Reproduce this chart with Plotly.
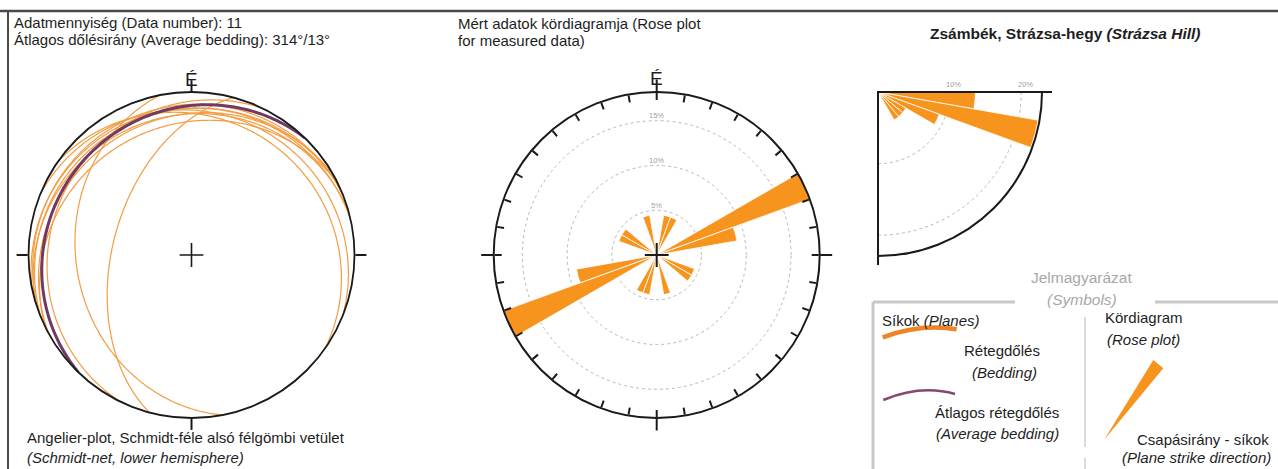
import numpy as np
import plotly.graph_objects as go

W, H = 1278, 469

# ---------------- data ----------------
data_number = 11
avg_dipdir = 314
avg_dip = 13

# measured bedding planes (dip direction / dip, degrees)
plane_dipdir = [259, 285, 296, 331, 334, 337, 339, 344, 348, 22, 35]
plane_dip = [30, 50, 14, 16, 21, 12, 9, 15, 11, 13, 17]

# rose plot of strike directions (10 degree bins, 0-180, drawn bidirectionally)
strike_bin_start = [10, 20, 60, 70, 110, 120, 160]
strike_pct = [4.5, 4.5, 18.2, 9.1, 4.5, 4.5, 4.5]
rose_rings = [5, 10, 15]
rose_ring_labels = ['5%', '10%', '15%']
rose_max = 18.2

# quarter rose of dip angles (10 degree bins)
dip_bin_start = [0, 10, 20, 30, 40, 50]
dip_pct = [13.6, 22.7, 9.1, 4.5, 4.5, 4.5]
dip_rings = [10, 20]
dip_ring_labels = ['10%', '20%']
dip_max = 22.9

# ---------------- style / geometry ----------------
FONT = 'Liberation Sans, Arial, sans-serif'
TXT = '#1e1e1e'
ARC_ORANGE = '#F39C42'
PETAL = '#F7941D'
PURPLE = '#713A62'
FRAME = '#1a1a1a'

STEREO_C, STEREO_R = (191.5, 255.0), 163.0
ROSE_C, ROSE_R = (656.7, 255.0), 163.0
Q_O, Q_R = (878.0, 92.0), 164.0


def circle_domain(c, r):
    cx, cy = c
    return dict(x=[(cx - r) / W, (cx + r) / W], y=[(H - cy - r) / H, (H - cy + r) / H])


def great_circle(dd, dip, n=241):
    """Lower-hemisphere equal-area (Schmidt) projection of a plane."""
    a, d = np.radians(dd), np.radians(dip)
    s = a - np.pi / 2
    lam = np.linspace(0, np.pi, n)
    sv = np.array([np.sin(s), np.cos(s), 0.0])
    dv = np.array([np.cos(d) * np.sin(a), np.cos(d) * np.cos(a), np.sin(d)])
    v = np.outer(np.cos(lam), sv) + np.outer(np.sin(lam), dv)
    plunge = np.degrees(np.arcsin(np.clip(v[:, 2], -1, 1)))
    trend = np.degrees(np.arctan2(v[:, 0], v[:, 1])) % 360
    r = np.sqrt(2) * np.sin(np.radians(45 - plunge / 2))
    return r, trend


fig = go.Figure()

# invisible trace so the pixel-unit cartesian overlay exists
fig.add_trace(go.Scatter(x=[0], y=[0], mode='markers', marker=dict(opacity=0),
                         hoverinfo='skip', showlegend=False))

# ---------- stereonet ----------
for dd, dp in zip(plane_dipdir, plane_dip):
    r, t = great_circle(dd, dp)
    fig.add_trace(go.Scatterpolar(r=r, theta=t, mode='lines', subplot='polar',
                                  line=dict(color=ARC_ORANGE, width=1.2),
                                  hoverinfo='skip', showlegend=False))
r, t = great_circle(avg_dipdir, avg_dip)
fig.add_trace(go.Scatterpolar(r=r, theta=t, mode='lines', subplot='polar',
                              line=dict(color=PURPLE, width=3),
                              hoverinfo='skip', showlegend=False))
fig.add_trace(go.Scatterpolar(r=[0], theta=[0], mode='markers', subplot='polar',
                              marker=dict(symbol='cross-thin', size=17,
                                          line=dict(color=FRAME, width=1.6)),
                              hoverinfo='skip', showlegend=False))

# ---------- rose of strikes ----------
rose_theta = [b + 5 for b in strike_bin_start] + [b + 185 for b in strike_bin_start]
rose_r = strike_pct + strike_pct
fig.add_trace(go.Barpolar(r=rose_r, theta=rose_theta, width=[10] * len(rose_r),
                          subplot='polar2', marker=dict(color=PETAL, line=dict(color='white', width=0.8)),
                          hoverinfo='skip', showlegend=False))
fig.add_trace(go.Scatterpolar(r=[0], theta=[0], mode='markers', subplot='polar2',
                              marker=dict(symbol='cross-thin', size=17,
                                          line=dict(color=FRAME, width=2)),
                              hoverinfo='skip', showlegend=False))
# overlay subplot just for the outward cardinal ticks
fig.add_trace(go.Scatterpolar(r=[0], theta=[0], mode='markers', subplot='polar3',
                              marker=dict(opacity=0), hoverinfo='skip', showlegend=False))

# ---------- quarter rose of dips ----------
fig.add_trace(go.Barpolar(r=dip_pct, theta=[90 + b + 5 for b in dip_bin_start],
                          width=[10] * len(dip_pct), subplot='polar4',
                          marker=dict(color=PETAL, line=dict(color='white', width=0.8)),
                          hoverinfo='skip', showlegend=False))

ang_common = dict(rotation=90, direction='clockwise', showgrid=False, showticklabels=False)

fig.update_layout(
    width=W, height=H, margin=dict(l=0, r=0, t=0, b=0),
    paper_bgcolor='white', plot_bgcolor='rgba(0,0,0,0)', showlegend=False,
    xaxis=dict(range=[0, W], visible=False, domain=[0, 1], fixedrange=True),
    yaxis=dict(range=[H, 0], visible=False, domain=[0, 1], fixedrange=True),
    polar=dict(
        domain=circle_domain(STEREO_C, STEREO_R), bgcolor='rgba(0,0,0,0)',
        radialaxis=dict(range=[0, 1], visible=False, showgrid=False),
        angularaxis=dict(**ang_common, showline=True, linecolor=FRAME, linewidth=1.8,
                         tickmode='array', tickvals=[0, 90, 180, 270], ticks='outside',
                         ticklen=11, tickwidth=1.5, tickcolor=FRAME),
    ),
    polar2=dict(
        domain=circle_domain(ROSE_C, ROSE_R), bgcolor='rgba(0,0,0,0)', bargap=0,
        radialaxis=dict(range=[0, rose_max], tickmode='array', tickvals=rose_rings,
                        showgrid=True, gridcolor='#b8b8b8', gridwidth=1, griddash='3px,3px',
                        showline=False, showticklabels=False, ticks=''),
        angularaxis=dict(**ang_common, showline=True, linecolor=FRAME, linewidth=2,
                         tickmode='array', tickvals=list(range(0, 360, 10)), ticks='inside',
                         ticklen=7, tickwidth=1.5, tickcolor=FRAME),
    ),
    polar3=dict(
        domain=circle_domain(ROSE_C, ROSE_R), bgcolor='rgba(0,0,0,0)',
        radialaxis=dict(range=[0, rose_max], visible=False, showgrid=False),
        angularaxis=dict(**ang_common, showline=False, tickmode='array',
                         tickvals=[0, 90, 180, 270], ticks='outside', ticklen=12,
                         tickwidth=1.5, tickcolor=FRAME),
    ),
    polar4=dict(
        domain=dict(x=[Q_O[0] / W, (Q_O[0] + Q_R) / W],
                    y=[(H - Q_O[1] - Q_R) / H, (H - Q_O[1]) / H]),
        sector=[270, 360], bgcolor='rgba(0,0,0,0)', bargap=0,
        radialaxis=dict(range=[0, dip_max], tickmode='array', tickvals=dip_rings,
                        showticklabels=False, ticks='', showline=False,
                        showgrid=True, gridcolor='#b8b8b8', gridwidth=1, griddash='3px,3px'),
        angularaxis=dict(**ang_common, showline=True, linecolor=FRAME, linewidth=2,
                         tickmode='array', tickvals=list(range(100, 180, 10)), ticks='inside',
                         ticklen=6, tickwidth=1.5, tickcolor=FRAME),
    ),
)

# ---------- decorative frame lines (pixel units) ----------
def line(x0, y0, x1, y1, color, width):
    fig.add_shape(type='line', xref='x', yref='y', x0=x0, y0=y0, x1=x1, y1=y1,
                  line=dict(color=color, width=width))

line(0, 11, W, 11, '#4a4a4a', 2.5)
line(8, 11, 8, H, '#4a4a4a', 2)
# quarter-rose edges
line(Q_O[0], Q_O[1], Q_O[0] + Q_R + 10, Q_O[1], FRAME, 2)
line(Q_O[0], Q_O[1], Q_O[0], Q_O[1] + Q_R + 9, FRAME, 2)
# legend box
line(873, 302, 1015, 302, '#c8c8c8', 3)
line(1155, 302, W, 302, '#c8c8c8', 3)
line(873, 302, 873, H, '#c8c8c8', 3)
line(1085, 317, 1085, 447, '#cfcfcf', 1.5)
line(1085, 458, 1085, H, '#cfcfcf', 1.5)

# legend glyphs
fig.add_shape(type='path', xref='x', yref='y', path='M 882.7,337.3 Q 920.3,323.3 956.7,329.3',
              line=dict(color='#EE8428', width=4.5))
fig.add_shape(type='path', xref='x', yref='y', path='M 883.3,400 Q 920.8,384.4 955,394',
              line=dict(color='#87466F', width=2.5))
fig.add_shape(type='path', xref='x', yref='y', path='M 1104,440 L 1153.3,360 L 1163.3,368.3 Z',
              fillcolor=PETAL, line=dict(width=0))

# ---------- texts ----------
def txt(x, y, s, size=15, color=TXT, anchor='left'):
    fig.add_annotation(x=x, y=y, xref='x', yref='y', text=s, showarrow=False,
                       xanchor=anchor, yanchor='middle',
                       font=dict(family=FONT, size=size, color=color))

txt(12, 22.5, f'Adatmennyiség (Data number): {data_number}')
txt(12, 39.5, f'Átlagos dőlésirány (Average bedding): {avg_dipdir}°/{avg_dip}°')
txt(STEREO_C[0], 79.5, 'É', size=19, anchor='center')
txt(25, 437.8, 'Angelier-plot, Schmidt-féle alsó félgömbi vetület')
txt(25, 457.8, '<i>(Schmidt-net, lower hemisphere)</i>')

txt(456, 23, 'Mért adatok kördiagramja (Rose plot')
txt(456, 40.5, 'for measured data)')
txt(ROSE_C[0], 78.5, 'É', size=19, anchor='center')
for ring, lab in zip(rose_rings, rose_ring_labels):
    txt(ROSE_C[0], ROSE_C[1] - ring / rose_max * ROSE_R - 5, lab, size=7.5,
        color='#a0a0a0', anchor='center')
for ring, lab in zip(dip_rings, dip_ring_labels):
    txt(Q_O[0] + ring / dip_max * Q_R + 4, Q_O[1] - 8, lab, size=7.5,
        color='#a0a0a0', anchor='center')

txt(1065, 33.8, '<b>Zsámbék, Strázsa-hegy <i>(Strázsa Hill)</i></b>', size=15.5, anchor='center')

GRAY = '#a8a8a8'
txt(1081.7, 277.8, 'Jelmagyarázat', size=15.5, color=GRAY, anchor='center')
txt(1081.7, 299.5, '<i>(Symbols)</i>', size=15.5, color=GRAY, anchor='center')
txt(880, 320, 'Síkok <i>(Planes)</i>')
txt(1001.7, 350.5, 'Rétegdőlés', anchor='center')
txt(1004, 372.8, '<i>(Bedding)</i>', anchor='center')
txt(996.7, 412.8, 'Átlagos rétegdőlés', anchor='center')
txt(997.3, 433.8, '<i>(Average bedding)</i>', anchor='center')
txt(1102.7, 317.8, 'Kördiagram')
txt(1105, 339.5, '<i>(Rose plot)</i>')
txt(1203.3, 439.5, 'Csapásirány - síkok', anchor='center')
txt(1196.7, 457.8, '<i>(Plane strike direction)</i>', anchor='center')

fig.write_html('out.html')
